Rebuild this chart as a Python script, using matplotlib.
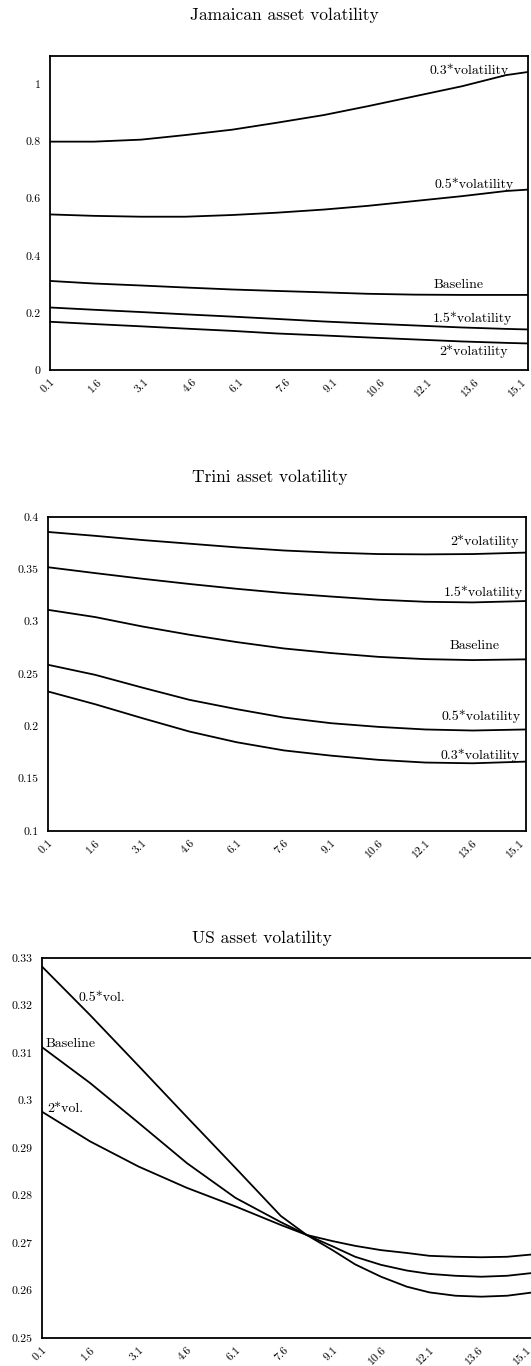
import matplotlib
matplotlib.use("Agg")
import matplotlib.pyplot as plt

plt.rcParams['font.family'] = ['cmr10', 'DejaVu Serif']
plt.rcParams['axes.formatter.use_mathtext'] = True
plt.rcParams['mathtext.fontset'] = 'cm'

# ---------------- data ----------------
xtick_vals = [0.1, 1.6, 3.1, 4.6, 6.1, 7.6, 9.1, 10.6, 12.1, 13.6, 15.1]
xtick_labels = ["0.1", "1.6", "3.1", "4.6", "6.1", "7.6", "9.1", "10.6", "12.1", "13.6", "15.1"]

# Jamaica
jam_x = [0.1, 1.5, 3.0, 4.4, 5.9, 7.3, 8.8, 10.2, 11.7, 13.2, 14.6, 15.3]
jam_03 = [0.800, 0.800, 0.807, 0.823, 0.842, 0.866, 0.893, 0.924, 0.959, 0.994, 1.033, 1.044]
jam_05 = [0.545, 0.540, 0.537, 0.537, 0.543, 0.551, 0.562, 0.575, 0.592, 0.609, 0.627, 0.632]
jam_base = [0.312, 0.303, 0.296, 0.289, 0.282, 0.277, 0.272, 0.267, 0.264, 0.263, 0.263, 0.263]
jam_15 = [0.219, 0.211, 0.203, 0.195, 0.187, 0.179, 0.170, 0.163, 0.156, 0.149, 0.144, 0.142]
jam_20 = [0.169, 0.161, 0.153, 0.145, 0.137, 0.128, 0.121, 0.114, 0.107, 0.100, 0.095, 0.093]

# Trinidad
tri_x = [0.1, 1.6, 3.1, 4.6, 6.1, 7.6, 9.1, 10.6, 12.1, 13.6, 15.3]
tri_20 = [0.3857, 0.3820, 0.3780, 0.3745, 0.3710, 0.3680, 0.3660, 0.3646, 0.3643, 0.3646, 0.3660]
tri_15 = [0.3520, 0.3464, 0.3410, 0.3360, 0.3314, 0.3273, 0.3240, 0.3210, 0.3190, 0.3184, 0.3197]
tri_base = [0.3113, 0.3044, 0.2954, 0.2875, 0.2805, 0.2744, 0.2700, 0.2664, 0.2642, 0.2633, 0.2640]
tri_05 = [0.2588, 0.2492, 0.2370, 0.2253, 0.2164, 0.2084, 0.2030, 0.1995, 0.1970, 0.1960, 0.1970]
tri_03 = [0.2333, 0.2211, 0.2078, 0.1950, 0.1848, 0.1770, 0.1720, 0.1680, 0.1654, 0.1647, 0.1663]

# US
us_x = [0.1, 1.6, 3.1, 4.6, 6.1, 7.5, 8.3, 9.1, 9.8, 10.6, 11.4, 12.1, 12.9, 13.7, 14.5, 15.3]
us_05 = [0.3283, 0.3180, 0.3073, 0.2965, 0.2858, 0.2757, 0.2717, 0.2685, 0.2655, 0.2629,
         0.2608, 0.2596, 0.2589, 0.2587, 0.2589, 0.2596]
us_base = [0.3113, 0.3037, 0.2953, 0.2868, 0.2795, 0.2744, 0.2717, 0.2693, 0.2671, 0.2654,
           0.2642, 0.2635, 0.2631, 0.2629, 0.2631, 0.2637]
us_20 = [0.2977, 0.2914, 0.2861, 0.2816, 0.2777, 0.2738, 0.2717, 0.2704, 0.2694, 0.2685,
         0.2679, 0.2673, 0.2671, 0.2670, 0.2671, 0.2676]

W, H = 531, 1366
fig = plt.figure(figsize=(W / 100, H / 100), dpi=100)


def make_ax(left, top, right, bottom):
    return fig.add_axes([left / W, 1 - bottom / H, (right - left) / W, (bottom - top) / H])


TICK_FS = 8.5


def style(ax, ylim, yticks, ylabels):
    ax.set_xlim(0.1, 15.3)
    ax.set_ylim(*ylim)
    ax.set_xticks(xtick_vals)
    ax.set_xticklabels(xtick_labels, rotation=45, ha='right', va='top', rotation_mode='anchor',
                       fontsize=TICK_FS)
    ax.set_yticks(yticks)
    ax.set_yticklabels(ylabels, fontsize=TICK_FS)
    ax.tick_params(length=0)
    ax.tick_params(axis='y', pad=6.5)
    ax.tick_params(axis='x', pad=5)
    for s in ax.spines.values():
        s.set_linewidth(1.3)


LW = 1.3
FS = 10
TFS = 12.5

# ---- Jamaica
ax1 = make_ax(50, 56, 528, 370)
for ys in [jam_03, jam_05, jam_base, jam_15, jam_20]:
    ax1.plot(jam_x, ys, color='black', lw=LW)
style(ax1, (0, 1.1), [0, 0.2, 0.4, 0.6, 0.8, 1.0], ["0", "0.2", "0.4", "0.6", "0.8", "1"])
ax1.text(14.7, 1.05, "0.3*volatility", ha='right', va='center', fontsize=FS)
ax1.text(14.84, 0.65, "0.5*volatility", ha='right', va='center', fontsize=FS)
ax1.text(13.9, 0.2975, "Baseline", ha='right', va='center', fontsize=FS)
ax1.text(14.8, 0.183, "1.5*volatility", ha='right', va='center', fontsize=FS)
ax1.text(14.66, 0.0665, "2*volatility", ha='right', va='center', fontsize=FS)
fig.text(284 / W, 1 - 15 / H, "Jamaican asset volatility", ha='center', va='center', fontsize=TFS)

# ---- Trinidad
ax2 = make_ax(48, 517, 526, 831)
for ys in [tri_20, tri_15, tri_base, tri_05, tri_03]:
    ax2.plot(tri_x, ys, color='black', lw=LW)
style(ax2, (0.1, 0.4), [0.1, 0.15, 0.2, 0.25, 0.3, 0.35, 0.4],
      ["0.1", "0.15", "0.2", "0.25", "0.3", "0.35", "0.4"])
ax2.text(15.06, 0.3767, "2*volatility", ha='right', va='center', fontsize=FS)
ax2.text(15.2, 0.3283, "1.5*volatility", ha='right', va='center', fontsize=FS)
ax2.text(14.46, 0.277, "Baseline", ha='right', va='center', fontsize=FS)
ax2.text(15.14, 0.2094, "0.5*volatility", ha='right', va='center', fontsize=FS)
ax2.text(15.1, 0.172, "0.3*volatility", ha='right', va='center', fontsize=FS)
fig.text(270 / W, 1 - 477 / H, "Trini asset volatility", ha='center', va='center', fontsize=TFS)

# ---- US
ax3 = make_ax(41.5, 958, 533, 1338)
for ys in [us_05, us_base, us_20]:
    ax3.plot(us_x, ys, color='black', lw=LW)
style(ax3, (0.25, 0.33), [0.25, 0.26, 0.27, 0.28, 0.29, 0.30, 0.31, 0.32, 0.33],
      ["0.25", "0.26", "0.27", "0.28", "0.29", "0.3", "0.31", "0.32", "0.33"])
ax3.text(1.25, 0.3216, "0.5*vol.", ha='left', va='center', fontsize=FS)
ax3.text(0.22, 0.3119, "Baseline", ha='left', va='center', fontsize=FS)
ax3.text(0.29, 0.2983, "2*vol.", ha='left', va='center', fontsize=FS)
fig.text(262 / W, 1 - 938 / H, "US asset volatility", ha='center', va='center', fontsize=TFS)

fig.savefig("out.png", dpi=100)
